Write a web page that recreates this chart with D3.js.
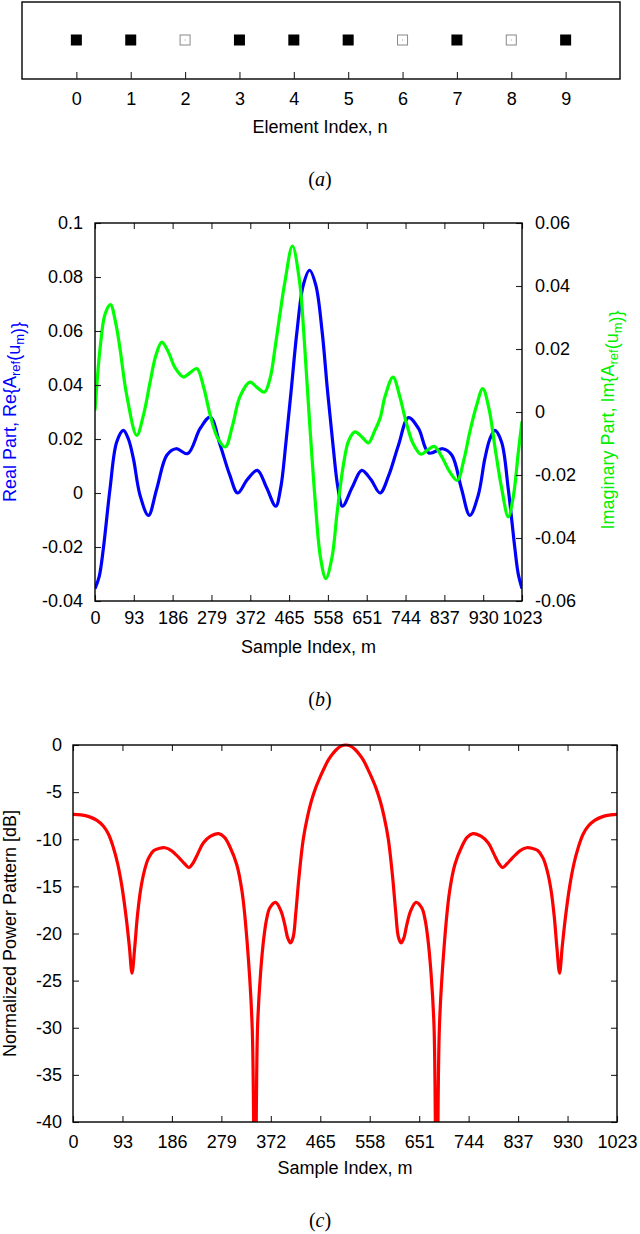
<!DOCTYPE html>
<html>
<head>
<meta charset="utf-8">
<script src="https://cdn.jsdelivr.net/npm/d3@7"></script>
<style>
  body { margin: 0; background: #fff; }
  svg text { font-family: "Liberation Sans", Arial, sans-serif; fill: #000; }
</style>
</head>
<body>
<svg id="fig" width="640" height="1234"></svg>
<script>
// element layout (a)
var elementIndex = [0, 1, 2, 3, 4, 5, 6, 7, 8, 9];
var elementOn    = [1, 1, 0, 1, 1, 1, 0, 1, 0, 1];

// shared x ticks for (b) and (c)
var sampleTicks = [0, 93, 186, 279, 372, 465, 558, 651, 744, 837, 930, 1023];

var reTicks = [-0.04, -0.02, 0, 0.02, 0.04, 0.06, 0.08, 0.1];
var reTickLabels = ["-0.04", "-0.02", "0", "0.02", "0.04", "0.06", "0.08", "0.1"];
var imTicks = [-0.06, -0.04, -0.02, 0, 0.02, 0.04, 0.06];
var imTickLabels = ["-0.06", "-0.04", "-0.02", "0", "0.02", "0.04", "0.06"];
var dbTicks = [-40, -35, -30, -25, -20, -15, -10, -5, 0];
var dbTickLabels = ["-40", "-35", "-30", "-25", "-20", "-15", "-10", "-5", "0"];

// Re{A_ref(u_m)}
var realM = [0, 10, 20, 36, 52, 68, 80, 92, 108, 128, 148, 172, 194, 222, 252, 276, 300, 323, 342, 365, 389, 411,
  433, 445, 457, 470, 484, 499, 514, 529, 544, 557, 570, 582, 593, 616, 639, 661, 683, 704, 727, 751, 775, 800,
  833, 855, 878, 898, 918, 934, 946, 958, 974, 990, 1006, 1014, 1023];
var realV = [-0.0354, -0.031, -0.0206, 0.0016, 0.0189, 0.0232, 0.020, 0.0127, -0.0009, -0.0083, 0.0016, 0.014,
  0.0164, 0.0146, 0.0239, 0.0281, 0.0177, 0.0066, 0.0, 0.005, 0.0084, 0.002, -0.0049, 0.002, 0.018, 0.038, 0.060,
  0.077, 0.0825, 0.077, 0.060, 0.038, 0.018, 0.002, -0.0049, 0.002, 0.0084, 0.005, 0.0, 0.0066, 0.0177, 0.0279,
  0.0239, 0.0148, 0.0164, 0.014, 0.0016, -0.0083, -0.0009, 0.0127, 0.020, 0.0232, 0.0189, 0.0016, -0.0206, -0.030,
  -0.0354];

// Im{A_ref(u_m)}
var imagM = [0, 12, 24, 37, 50, 60, 76, 100, 116, 132, 146, 160, 176, 192, 212, 228, 244, 260, 276, 293, 312, 330,
  347, 371, 388, 406, 420, 431, 443, 455, 473, 490, 500, 513, 528, 540, 553, 568, 580, 595, 608, 623, 640, 655,
  670, 683, 695, 714, 730, 745, 762, 781, 797, 813, 830, 850, 868, 884, 898, 914, 929, 944, 958, 974, 990, 1002,
  1014, 1023];
var imagV = [0.0005, 0.020, 0.031, 0.0341, 0.028, 0.020, 0.0053, -0.0074, -0.001, 0.0095, 0.018, 0.0222, 0.019,
  0.014, 0.0111, 0.0125, 0.0138, 0.008, -0.001, -0.008, -0.0111, -0.004, 0.0048, 0.0095, 0.0078, 0.0063, 0.011,
  0.020, 0.031, 0.0413, 0.0527, 0.0415, 0.0256, -0.001, -0.029, -0.046, -0.0529, -0.046, -0.032, -0.0169, -0.009,
  -0.0063, -0.008, -0.0098, -0.006, -0.002, 0.005, 0.0111, 0.005, -0.003, -0.010, -0.0134, -0.012, -0.0109,
  -0.014, -0.019, -0.0217, -0.015, -0.0063, 0.002, 0.0074, 0.001, -0.011, -0.024, -0.0333, -0.027, -0.013, -0.003];

// normalized power pattern [dB]
var powerM = [0, 15, 30, 45, 57, 67, 76, 84, 92, 100, 106, 111, 116, 121, 127, 134, 142, 152, 163, 173, 185, 200,
  210, 218, 226, 235, 245, 258, 274, 285, 295, 308, 318, 327, 337, 342, 347, 353, 359, 364, 370, 381, 391, 398,
  404, 409, 414, 419, 425, 433, 441, 448, 456, 464, 472, 480, 488, 496, 504, 513,
  522, 530, 538, 546, 554, 562, 570, 578, 585, 593, 601, 607, 612, 617, 622, 628, 635, 645, 656, 662, 667, 673,
  679, 684, 689, 699, 708, 718, 731, 741, 752, 768, 781, 791, 800, 808, 816, 826, 841, 853, 863, 874, 884, 892,
  899, 905, 910, 915, 920, 926, 934, 942, 950, 959, 969, 981, 996, 1011, 1023];
var powerV = [-7.36, -7.42, -7.6, -8.0, -8.6, -9.5, -10.9, -12.6, -15.0, -18.3, -21.4, -24.2, -21.5, -18.2, -15.4,
  -13.4, -12.0, -11.2, -10.95, -10.9, -11.2, -12.0, -12.6, -13.0, -12.5, -11.5, -10.4, -9.7, -9.4, -9.8, -10.8,
  -12.7, -15.6, -20.6, -30, -60, -30, -24, -20.4, -18.5, -17.3, -16.7, -17.6, -19.0, -20.5, -21.0, -20.4, -17.8,
  -14.0, -10.0, -7.6, -6.0, -4.6, -3.5, -2.5, -1.6, -0.95, -0.45, -0.12, 0,
  -0.12, -0.45, -0.95, -1.6, -2.5, -3.5, -4.6, -6.0, -7.6, -10.0, -14.0, -17.8, -20.4, -21.0, -20.5, -19.0, -17.6,
  -16.7, -17.3, -18.5, -20.4, -24, -30, -60, -30, -20.6, -15.6, -12.7, -10.8, -9.8, -9.4, -9.7, -10.4, -11.5,
  -12.5, -13.0, -12.6, -12.0, -11.2, -10.9, -10.95, -11.2, -12.0, -13.4, -15.4, -18.2, -21.5, -24.2, -21.4, -18.3,
  -15.0, -12.6, -10.9, -9.5, -8.6, -8.0, -7.6, -7.42, -7.36];

var svg = d3.select("#fig");
var fs = 18;

function zip(a, b) { return a.map(function(d, i) { return [d, b[i]]; }); }

function frame(x0, y0, x1, y1) {
  svg.append("rect").attr("x", x0).attr("y", y0).attr("width", x1 - x0).attr("height", y1 - y0)
    .attr("fill", "none").attr("stroke", "#000").attr("stroke-width", 1.4);
}

function styleAxis(g) {
  g.select(".domain").remove();
  g.selectAll(".tick line").attr("stroke", "#222").attr("stroke-width", 1.1);
  g.selectAll(".tick text").style("font-size", fs + "px").attr("fill", "#000");
}

function caption(y, letter) {
  var t = svg.append("text").attr("x", 320).attr("y", y).attr("text-anchor", "middle")
    .style("font-family", "'Liberation Serif', 'Times New Roman', serif").style("font-size", "20px");
  t.append("tspan").text("(");
  t.append("tspan").style("font-style", "italic").text(letter);
  t.append("tspan").text(")");
}

/* ---------- (a) element index ---------- */
var xA = d3.scaleLinear().domain([-1, 10]).range([22, 620]);
frame(22, 2, 620, 79);
var gA = svg.append("g").attr("transform", "translate(0,79)")
  .call(d3.axisBottom(xA).tickValues(elementIndex).tickFormat(d3.format("d"))
    .tickSizeInner(-7).tickSizeOuter(0).tickPadding(13));
styleAxis(gA);

var sq = elementIndex.map(function(d, i) { return { n: d, on: elementOn[i] }; });
svg.selectAll(".elem").data(sq).enter().append("rect")
  .attr("class", "elem")
  .attr("x", function(d) { return xA(d.n) - (d.on ? 5.5 : 5); })
  .attr("y", function(d) { return 40 - (d.on ? 5.5 : 5); })
  .attr("width", function(d) { return d.on ? 11 : 10; })
  .attr("height", function(d) { return d.on ? 11 : 10; })
  .attr("fill", function(d) { return d.on ? "#000" : "#fff"; })
  .attr("stroke", function(d) { return d.on ? "none" : "#888"; })
  .attr("stroke-width", 1);
svg.selectAll(".dot").data(sq.filter(function(d) { return !d.on; })).enter().append("rect")
  .attr("x", function(d) { return xA(d.n) - 0.5; }).attr("y", 39.5)
  .attr("width", 1).attr("height", 1).attr("fill", "#999");

svg.append("text").attr("x", 320).attr("y", 133).attr("text-anchor", "middle")
  .style("font-size", fs + "px").text("Element Index, n");
caption(186, "a");

/* ---------- (b) real / imaginary part ---------- */
var bL = 95, bR = 522, bT = 223, bB = 601;
var xB = d3.scaleLinear().domain([0, 1023]).range([bL, bR]);
var yRe = d3.scaleLinear().domain([-0.04, 0.1]).range([bB, bT]);
var yIm = d3.scaleLinear().domain([-0.06, 0.06]).range([bB, bT]);

svg.append("clipPath").attr("id", "clipB").append("rect")
  .attr("x", bL).attr("y", bT).attr("width", bR - bL).attr("height", bB - bT);

var smooth = d3.curveCatmullRom.alpha(0.5);
var lineRe = d3.line().x(function(d) { return xB(d[0]); }).y(function(d) { return yRe(d[1]); }).curve(smooth);
var lineIm = d3.line().x(function(d) { return xB(d[0]); }).y(function(d) { return yIm(d[1]); }).curve(smooth);

svg.append("path").datum(zip(realM, realV)).attr("d", lineRe).attr("clip-path", "url(#clipB)")
  .attr("fill", "none").attr("stroke", "#0000ff").attr("stroke-width", 3.2);
svg.append("path").datum(zip(imagM, imagV)).attr("d", lineIm).attr("clip-path", "url(#clipB)")
  .attr("fill", "none").attr("stroke", "#00ff00").attr("stroke-width", 3.2);

var gBx = svg.append("g").attr("transform", "translate(0," + bB + ")")
  .call(d3.axisBottom(xB).tickValues(sampleTicks).tickFormat(d3.format("d")).tickSizeInner(-6).tickSizeOuter(0).tickPadding(10));
styleAxis(gBx);
var gBt = svg.append("g").attr("transform", "translate(0," + bT + ")")
  .call(d3.axisTop(xB).tickValues(sampleTicks).tickFormat("").tickSizeInner(-6).tickSizeOuter(0));
styleAxis(gBt);
var gBl = svg.append("g").attr("transform", "translate(" + bL + ",0)")
  .call(d3.axisLeft(yRe).tickValues(reTicks).tickFormat(function(d, i) { return reTickLabels[i]; })
    .tickSizeInner(-6).tickSizeOuter(0).tickPadding(12));
styleAxis(gBl);
var gBr = svg.append("g").attr("transform", "translate(" + bR + ",0)")
  .call(d3.axisRight(yIm).tickValues(imTicks).tickFormat(function(d, i) { return imTickLabels[i]; })
    .tickSizeInner(-6).tickSizeOuter(0).tickPadding(13));
styleAxis(gBr);
frame(bL, bT, bR, bB);

function subLabel(x, y, color, parts) {
  var t = svg.append("text").attr("transform", "translate(" + x + "," + y + ") rotate(-90)")
    .attr("text-anchor", "middle").attr("dy", "0.35em").style("font-size", fs + "px").attr("fill", color);
  parts.forEach(function(p) {
    if (p[1]) {
      t.append("tspan").attr("dy", "0.3em").style("font-size", "13px").attr("fill", color).text(p[0]);
      t.append("tspan").attr("dy", "-0.3em").attr("fill", color).text("");
    } else {
      t.append("tspan").attr("fill", color).text(p[0]);
    }
  });
}
subLabel(10, 412, "#0000ff", [["Real Part, Re{A"], ["ref", 1], ["(u"], ["m", 1], [")}"]]);
subLabel(608, 420, "#00ee00", [["Imaginary Part, Im{A"], ["ref", 1], ["(u"], ["m", 1], [")}"]]);

svg.append("text").attr("x", (bL + bR) / 2).attr("y", 653).attr("text-anchor", "middle")
  .style("font-size", fs + "px").text("Sample Index, m");
caption(706, "b");

/* ---------- (c) power pattern ---------- */
var cL = 73, cR = 617, cT = 745, cB = 1122;
var xC = d3.scaleLinear().domain([0, 1023]).range([cL, cR]);
var yC = d3.scaleLinear().domain([-40, 0]).range([cB, cT]);

svg.append("clipPath").attr("id", "clipC").append("rect")
  .attr("x", cL).attr("y", cT - 3).attr("width", cR - cL).attr("height", cB - cT + 3);

var lineP = d3.line().x(function(d) { return xC(d[0]); }).y(function(d) { return yC(d[1]); }).curve(smooth);
svg.append("path").datum(zip(powerM, powerV)).attr("d", lineP).attr("clip-path", "url(#clipC)")
  .attr("fill", "none").attr("stroke", "#ff0000").attr("stroke-width", 3.2);

var gCx = svg.append("g").attr("transform", "translate(0," + cB + ")")
  .call(d3.axisBottom(xC).tickValues(sampleTicks).tickFormat(d3.format("d")).tickSizeInner(-6).tickSizeOuter(0).tickPadding(13));
styleAxis(gCx);
var gCt = svg.append("g").attr("transform", "translate(0," + cT + ")")
  .call(d3.axisTop(xC).tickValues(sampleTicks).tickFormat("").tickSizeInner(-6).tickSizeOuter(0));
styleAxis(gCt);
var gCl = svg.append("g").attr("transform", "translate(" + cL + ",0)")
  .call(d3.axisLeft(yC).tickValues(dbTicks).tickFormat(function(d, i) { return dbTickLabels[i]; })
    .tickSizeInner(-6).tickSizeOuter(0).tickPadding(11));
styleAxis(gCl);
var gCr = svg.append("g").attr("transform", "translate(" + cR + ",0)")
  .call(d3.axisRight(yC).tickValues(dbTicks).tickFormat("").tickSizeInner(-6).tickSizeOuter(0));
styleAxis(gCr);
frame(cL, cT, cR, cB);

svg.append("text").attr("transform", "translate(10," + ((cT + cB) / 2) + ") rotate(-90)")
  .attr("text-anchor", "middle").attr("dy", "0.35em").style("font-size", fs + "px")
  .text("Normalized Power Pattern [dB]");
svg.append("text").attr("x", (cL + cR) / 2).attr("y", 1174).attr("text-anchor", "middle")
  .style("font-size", fs + "px").text("Sample Index, m");
caption(1227, "c");
</script>
</body>
</html>
